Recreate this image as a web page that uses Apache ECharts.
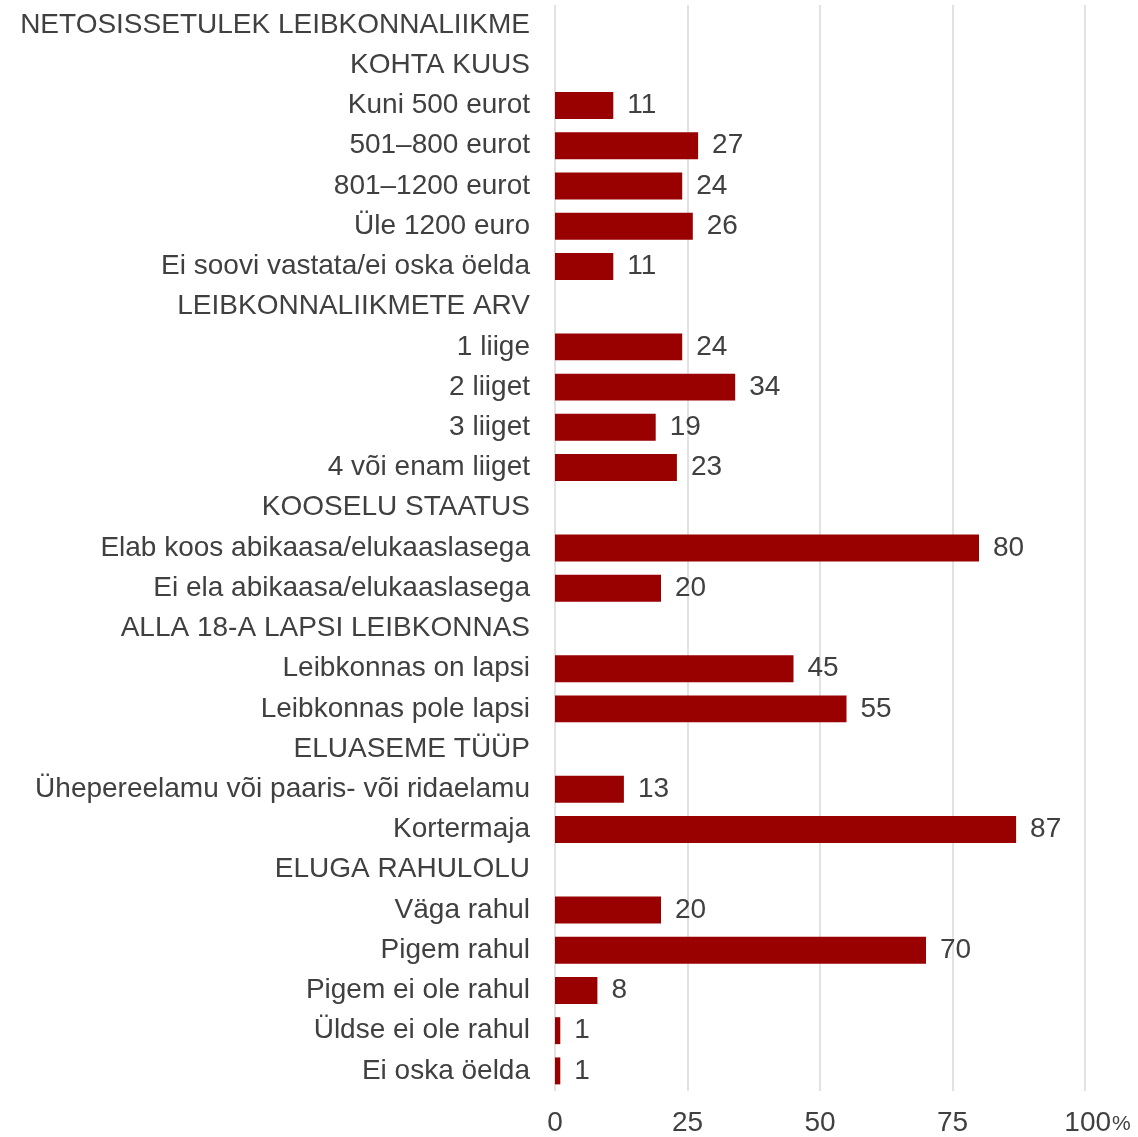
<!DOCTYPE html>
<html>
<head>
<meta charset="utf-8">
<script src="https://cdn.jsdelivr.net/npm/echarts@6/dist/echarts.min.js"></script>
<style>
html,body{margin:0;padding:0;background:#fff;}
#chart{width:1138px;height:1137px;}
</style>
</head>
<body>
<div id="chart"></div>
<script>
const categories = [
  'NETOSISSETULEK LEIBKONNALIIKME',
  'KOHTA KUUS',
  'Kuni 500 eurot',
  '501–800 eurot',
  '801–1200 eurot',
  'Üle 1200 euro',
  'Ei soovi vastata/ei oska öelda',
  'LEIBKONNALIIKMETE ARV',
  '1 liige',
  '2 liiget',
  '3 liiget',
  '4 või enam liiget',
  'KOOSELU STAATUS',
  'Elab koos abikaasa/elukaaslasega',
  'Ei ela abikaasa/elukaaslasega',
  'ALLA 18-A LAPSI LEIBKONNAS',
  'Leibkonnas on lapsi',
  'Leibkonnas pole lapsi',
  'ELUASEME TÜÜP',
  'Ühepereelamu või paaris- või ridaelamu',
  'Kortermaja',
  'ELUGA RAHULOLU',
  'Väga rahul',
  'Pigem rahul',
  'Pigem ei ole rahul',
  'Üldse ei ole rahul',
  'Ei oska öelda'
];
const values = [
  null, null, 11, 27, 24, 26, 11,
  null, 24, 34, 19, 23,
  null, 80, 20,
  null, 45, 55,
  null, 13, 87,
  null, 20, 70, 8, 1, 1
];
const xTicks = [0, 25, 50, 75, 100];

const FONT = '"Liberation Sans", Arial, sans-serif';
const TXT = '#404040';

const chart = echarts.init(document.getElementById('chart'));
chart.setOption({
  animation: false,
  textStyle: { fontFamily: FONT },
  grid: { left: 555, right: 53, top: 5, bottom: 46, containLabel: false },
  xAxis: {
    type: 'value',
    min: xTicks[0],
    max: xTicks[xTicks.length - 1],
    interval: xTicks[1] - xTicks[0],
    axisLine: { show: false },
    axisTick: { show: false },
    splitLine: { show: true, lineStyle: { color: '#d9d9d9', width: 1.5 } },
    axisLabel: {
      margin: 18,
      color: TXT,
      fontSize: 28,
      fontFamily: FONT,
      formatter: function (v) {
        return v === 100 ? '{s|}{a|100}{p|%}' : '{a|' + v + '}';
      },
      rich: {
        a: { fontSize: 28, color: TXT, fontFamily: FONT },
        p: { fontSize: 21, color: TXT, fontFamily: FONT, verticalAlign: 'bottom', padding: [0, 0, 2, 1] },
        s: { width: 25 }
      }
    }
  },
  yAxis: {
    type: 'category',
    inverse: true,
    data: categories,
    axisLine: { show: false },
    axisTick: { show: false },
    splitLine: { show: false },
    axisLabel: {
      interval: 0,
      margin: 25,
      color: TXT,
      fontSize: 28,
      fontFamily: FONT
    }
  },
  series: [{
    type: 'bar',
    data: values,
    barWidth: '67%',
    itemStyle: { color: '#990000' },
    label: {
      show: true,
      position: 'right',
      distance: 14,
      color: TXT,
      fontSize: 28,
      fontFamily: FONT
    }
  }]
});
</script>
</body>
</html>
